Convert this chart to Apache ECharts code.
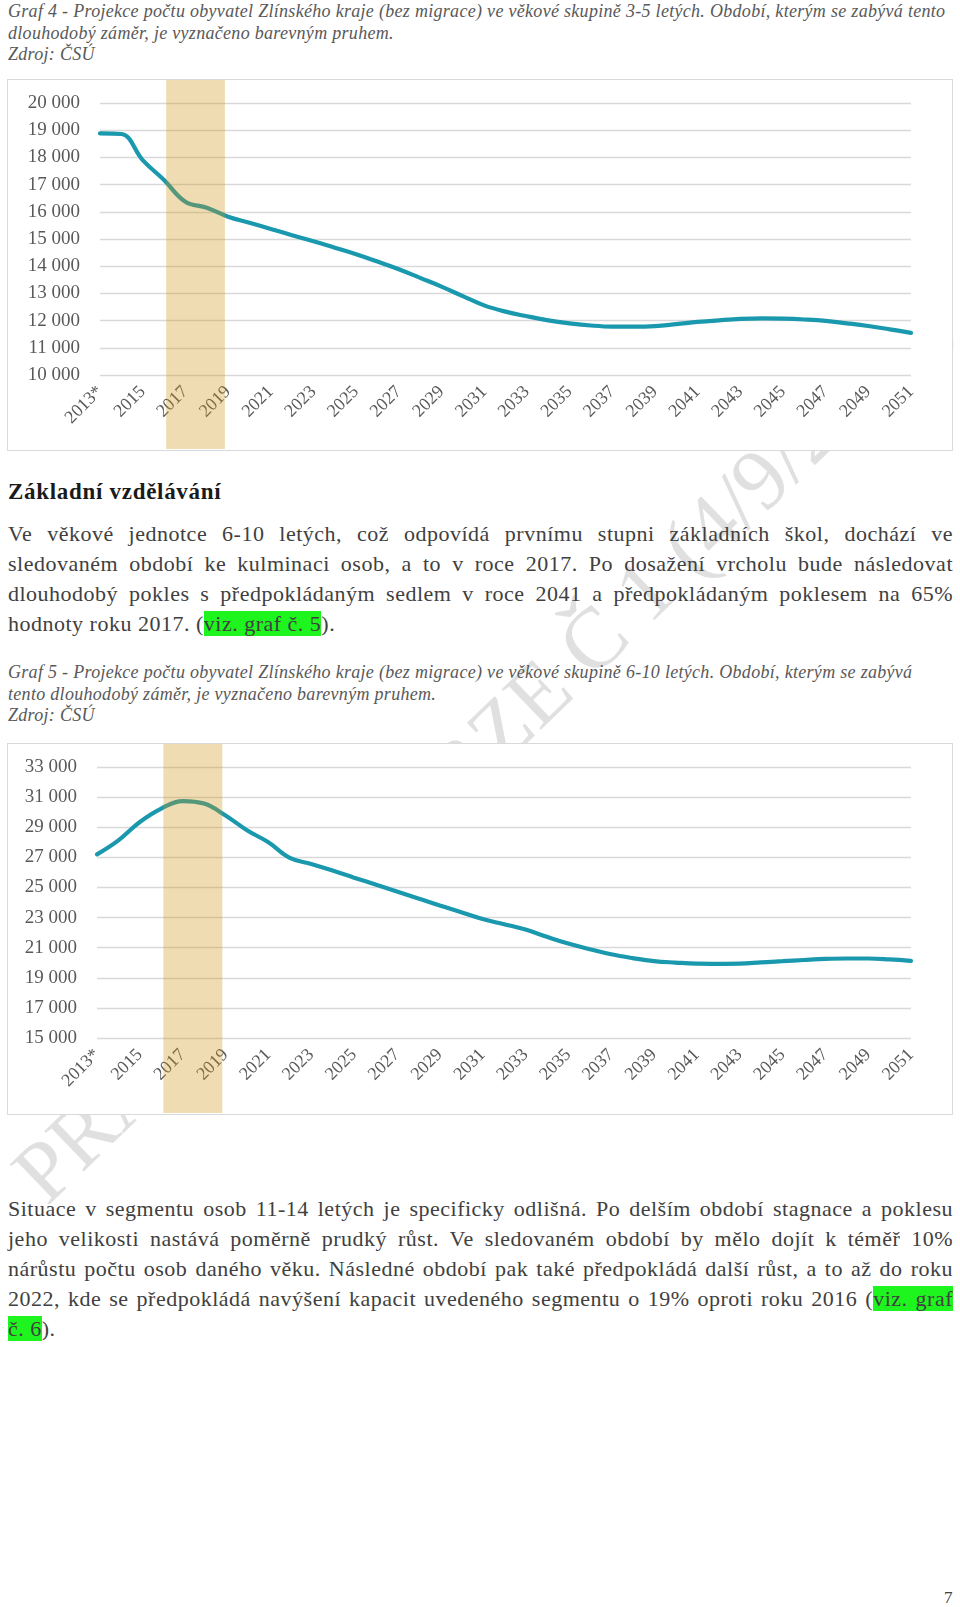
<!DOCTYPE html>
<html><head><meta charset="utf-8">
<script src="https://cdn.jsdelivr.net/npm/echarts@6/dist/echarts.min.js"></script>
<style>
html,body{margin:0;padding:0;background:#fff;}
body{width:960px;height:1607px;position:relative;overflow:hidden;font-family:"Liberation Serif","DejaVu Serif",serif;}
.abs{position:absolute;z-index:2;}
.cap{left:8px;font-style:italic;font-size:18px;letter-spacing:0.3px;line-height:21.5px;color:#595959;white-space:nowrap;}
.para{left:8px;width:945px;font-size:22px;letter-spacing:0.5px;line-height:30px;color:#404040;}
.para div{text-align:justify;text-align-last:justify;}
.para div.last{text-align-last:left;}
.hl{background:#1ef51e;}
.chart{position:absolute;left:7px;width:946px;height:372px;border:1px solid #d9d9d9;box-sizing:border-box;background:#fff;z-index:3;}
.wm{position:absolute;left:-3px;top:1155px;transform-origin:0 0;transform:rotate(-44deg);font-size:86px;line-height:1;color:#e0e0e0;white-space:nowrap;z-index:1;}
</style>
</head>
<body>
<div class="wm">PRACOVNÍ VERZE Č 1 (4/9/2017)</div>

<div class="abs cap" style="top:1px;">Graf 4 - Projekce počtu obyvatel Zlínského kraje (bez migrace) ve věkové skupině 3-5 letých. Období, kterým se zabývá tento<br>dlouhodobý záměr, je vyznačeno barevným pruhem.<br>Zdroj: ČSÚ</div>

<div id="c1" class="chart" style="top:79px;"></div>

<div class="abs" style="left:8px;top:478px;font-size:23px;letter-spacing:0.7px;line-height:28px;font-weight:bold;color:#1a1a1a;">Základní vzdělávání</div>

<div class="abs para" style="top:519px;">
<div>Ve věkové jednotce 6-10 letých, což odpovídá prvnímu stupni základních škol, dochází ve</div>
<div>sledovaném období ke kulminaci osob, a to v roce 2017. Po dosažení vrcholu bude následovat</div>
<div>dlouhodobý pokles s předpokládaným sedlem v roce 2041 a předpokládaným poklesem na 65%</div>
<div class="last">hodnoty roku 2017. (<span class="hl">viz. graf č. 5</span>).</div>
</div>

<div class="abs cap" style="top:662px;">Graf 5 - Projekce počtu obyvatel Zlínského kraje (bez migrace) ve věkové skupině 6-10 letých. Období, kterým se zabývá<br>tento dlouhodobý záměr, je vyznačeno barevným pruhem.<br>Zdroj: ČSÚ</div>

<div id="c2" class="chart" style="top:743px;"></div>

<div class="abs para" style="top:1194px;">
<div>Situace v segmentu osob 11-14 letých je specificky odlišná. Po delším období stagnace a poklesu</div>
<div>jeho velikosti nastává poměrně prudký růst. Ve sledovaném období by mělo dojít k téměř 10%</div>
<div>nárůstu počtu osob daného věku. Následné období pak také předpokládá další růst, a to až do roku</div>
<div>2022, kde se předpokládá navýšení kapacit uvedeného segmentu o 19% oproti roku 2016 (<span class="hl">viz. graf</span></div>
<div class="last"><span class="hl">č. 6</span>).</div>
</div>

<div class="abs" style="left:944px;top:1588px;font-size:17px;color:#404040;">7</div>

<script>
// ---- data ----
const years = [2013,2014,2015,2016,2017,2018,2019,2020,2021,2022,2023,2024,2025,2026,2027,2028,2029,2030,2031,2032,2033,2034,2035,2036,2037,2038,2039,2040,2041,2042,2043,2044,2045,2046,2047,2048,2049,2050,2051];
const age3to5 = [18880,18860,17900,17170,16370,16150,15820,15600,15370,15140,14920,14680,14440,14170,13890,13570,13250,12900,12560,12330,12160,12010,11900,11820,11780,11780,11800,11870,11950,12010,12060,12080,12070,12040,11990,11900,11800,11680,11550];
const age6to10 = [27200,28130,29350,30240,30740,30570,29780,28800,28000,26960,26560,26120,25650,25200,24730,24270,23800,23360,22900,22560,22200,21720,21270,20900,20560,20310,20110,20010,19940,19930,19940,20020,20100,20180,20250,20280,20280,20220,20120];
const band = [[2016.1, 2018.85]];           // highlighted period (years)
const yAxis1 = {min:10000, max:20000, step:1000};
const yAxis2 = {min:15000, max:33000, step:2000};
const xAxisDef = {min:2013, max:2051, step:2, starLabel:2013};

// ---- styling ----
const LINE = '#1a99ae';
const BAND = 'rgba(205,150,20,0.33)';
const TXT = '#595959';
const FONT = '"Liberation Serif", serif';

function fmtThousands(v){ return String(v).replace(/\B(?=(\d{3})+(?!\d))/g,' '); }

function makeOption(values, ya, g){
  const pts = years.map((y,i)=>[y, values[i]]);
  return {
    animation:false,
    backgroundColor:'#fff',
    grid:[
      {left:g.left, right:g.right, top:g.top, bottom:g.bottom},
      {left:g.left, right:g.right, top:0, bottom:1}
    ],
    xAxis:[
      {type:'value', gridIndex:0, min:xAxisDef.min, max:xAxisDef.max, interval:xAxisDef.step,
       axisLine:{show:false}, axisTick:{show:false}, splitLine:{show:false},
       axisLabel:{rotate:45, margin:14, color:TXT, fontFamily:FONT, fontSize:18,
         formatter:v=> v===xAxisDef.starLabel ? v+'*' : String(v)}},
      {type:'value', gridIndex:1, min:xAxisDef.min, max:xAxisDef.max, show:false}
    ],
    yAxis:[
      {type:'value', gridIndex:0, min:ya.min, max:ya.max, interval:ya.step,
       axisLine:{show:false}, axisTick:{show:false},
       splitLine:{lineStyle:{color:'#d9d9d9', width:1.3}},
       axisLabel:{margin:20, color:TXT, fontFamily:FONT, fontSize:19, formatter:fmtThousands}},
      {type:'value', gridIndex:1, min:0, max:1, show:false}
    ],
    series:[
      {type:'line', xAxisIndex:0, yAxisIndex:0, data:pts, smooth:0.4, showSymbol:false, symbol:'none',
       lineStyle:{color:LINE, width:4.2, cap:'round'}, z:2},
      {type:'custom', xAxisIndex:1, yAxisIndex:1, z:10, silent:true, clip:false,
       data:band, encode:{x:[0,1]},
       renderItem:(params, api)=>{
         const p0 = api.coord([api.value(0), 1]);
         const p1 = api.coord([api.value(1), 0]);
         return {type:'rect', shape:{x:p0[0], y:p0[1], width:p1[0]-p0[0], height:p1[1]-p0[1]},
                 style:{fill:BAND}};
       }}
    ]
  };
}

const c1 = echarts.init(document.getElementById('c1'));
c1.setOption(makeOption(age3to5, yAxis1, {left:92, right:41, top:23, bottom:75}));
const c2 = echarts.init(document.getElementById('c2'));
c2.setOption(makeOption(age6to10, yAxis2, {left:89, right:41, top:23, bottom:76}));
</script>
</body></html>
